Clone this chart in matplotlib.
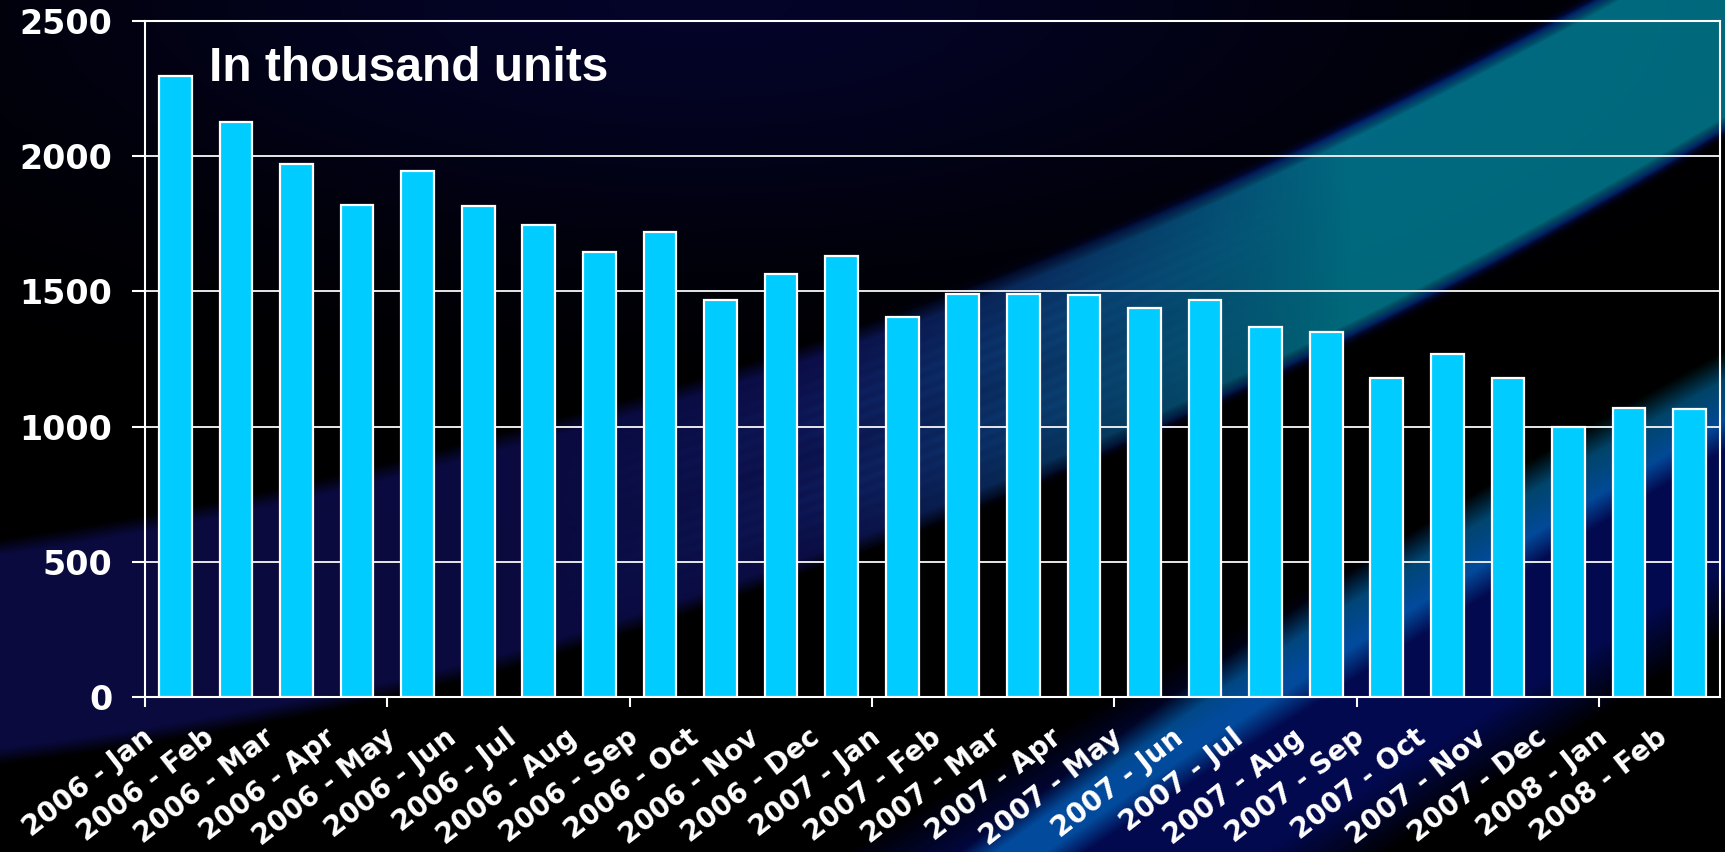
import numpy as np
import matplotlib
matplotlib.use('Agg')
import matplotlib.pyplot as plt
from matplotlib.transforms import ScaledTranslation

plt.rcParams['font.family'] = ['DejaVu Sans']
plt.rcParams['font.weight'] = 'bold'

# monthly sales, thousand units
labels = ['2006 - Jan', '2006 - Feb', '2006 - Mar', '2006 - Apr', '2006 - May', '2006 - Jun',
          '2006 - Jul', '2006 - Aug', '2006 - Sep', '2006 - Oct', '2006 - Nov', '2006 - Dec',
          '2007 - Jan', '2007 - Feb', '2007 - Mar', '2007 - Apr', '2007 - May', '2007 - Jun',
          '2007 - Jul', '2007 - Aug', '2007 - Sep', '2007 - Oct', '2007 - Nov', '2007 - Dec',
          '2008 - Jan', '2008 - Feb']
values = [2295, 2125, 1970, 1820, 1945, 1815, 1745, 1645, 1720, 1470, 1565, 1630,
          1405, 1490, 1490, 1485, 1440, 1470, 1370, 1350, 1180, 1270, 1180, 1000,
          1070, 1065]
yticks = [0, 500, 1000, 1500, 2000, 2500]

W, H = 1725, 852
fig = plt.figure(figsize=(W / 100, H / 100), dpi=100, facecolor='black')

# slide background: black with a navy haze and two curved light ribbons
xx, yy = np.meshgrid(np.arange(W, dtype=float), np.arange(H, dtype=float))
img = np.zeros((H, W, 3))

haze = 0.8 * np.exp(-(yy / 230.0) ** 2) * np.exp(-((xx - 700) / 650.0) ** 2)
img += haze[..., None] * np.array([0.02, 0.02, 0.20])

def ribbon(cx, cy, cw, soft, deg=2):
    c = np.polyval(np.polyfit(cx, cy, deg), xx)
    w = np.interp(xx, cx, cw)
    d = yy - c
    t = np.abs(d) / w
    return np.clip((1.0 - t) / soft, 0, 1), t, d

# wide upper ribbon: navy on the left, teal to the right
body, t, d = ribbon([0, 500, 1200, 1500, 1725], [653, 547, 308, 150, 28],
                    [113, 120, 108, 106, 103], 0.15)
mix = np.clip((xx - 800) / 550.0, 0, 1)[..., None] ** 1.3
navy = np.array([0.04, 0.04, 0.25])
teal = np.array([0.0, 0.41, 0.47])
core = navy * (1 - mix) + teal * mix
stripes = 0.85 + 0.15 * np.sin(d / 2.0)
blueish = np.clip((xx - 550) / 300.0, 0, 1) * np.clip((1300 - xx) / 250.0, 0, 1)
streaks = blueish * np.exp(-((t - 0.3) / 0.45) ** 2) * stripes
img += body[..., None] * core
img += (0.3 * streaks * body)[..., None] * np.array([0.05, 0.22, 0.35])
rim = np.exp(-((t - 0.97) / 0.06) ** 2) * mix[..., 0]
img += (0.55 * rim)[..., None] * np.array([0.0, 0.08, 0.45])

# lower ribbon: navy glow with a dim teal core
glow, _, _ = ribbon([850, 1300, 1725], [1020, 740, 500], [170, 160, 140], 0.5, deg=1)
img += (0.9 * glow)[..., None] * np.array([0.01, 0.04, 0.34])
core2, _, _ = ribbon([1050, 1300, 1500, 1725], [830, 660, 530, 400],
                     [45, 55, 55, 50], 0.6)
img += (0.8 * core2)[..., None] * np.array([0.0, 0.32, 0.38])
img = np.clip(img, 0, 1)

bg = fig.add_axes([0, 0, 1, 1], zorder=-1)
bg.imshow(img, aspect='auto', interpolation='bilinear')
bg.axis('off')

ax = fig.add_axes([145 / W, 1 - 697 / H, (1720 - 145) / W, (697 - 21) / H])
ax.set_facecolor('none')

x = np.arange(len(values))
ax.bar(x, values, width=0.54, color='#00CCFF', edgecolor='white', linewidth=1.6, zorder=3)

ax.set_xlim(-0.5, len(values) - 0.5)
ax.set_ylim(0, 2500)
ax.set_yticks(yticks)
ax.set_yticklabels([str(v) for v in yticks], fontsize=24, color='white', fontweight='bold')
ax.yaxis.grid(True, color='#e8e8e8', linewidth=1.4, zorder=0)
ax.set_axisbelow(True)

# month labels under every bar, tick marks every fourth boundary
ax.set_xticks(x)
ax.set_xticklabels(labels, rotation=38, ha='right', va='top', rotation_mode='anchor',
                   fontsize=20, color='white', fontweight='bold')
ax.tick_params(axis='x', length=0, pad=19)
shift = ScaledTranslation(-34 / 100, 0, fig.dpi_scale_trans)
for lab in ax.get_xticklabels():
    lab.set_transform(lab.get_transform() + shift)
ax.set_xticks(np.arange(-0.5, len(values), 4), minor=True)
ax.tick_params(axis='x', which='minor', length=7, width=1.5, color='white', direction='out')
ax.tick_params(axis='y', length=9.5, width=1.5, color='white', pad=14)

for s in ax.spines.values():
    s.set_color('white')
    s.set_linewidth(1.5)

ax.text(0.0406, 0.911, 'In thousand units', transform=ax.transAxes, fontsize=34.5,
        color='white', fontweight='bold', va='baseline', ha='left',
        family=['Liberation Sans', 'DejaVu Sans'])

fig.savefig('out.png', dpi=100, facecolor='black')
